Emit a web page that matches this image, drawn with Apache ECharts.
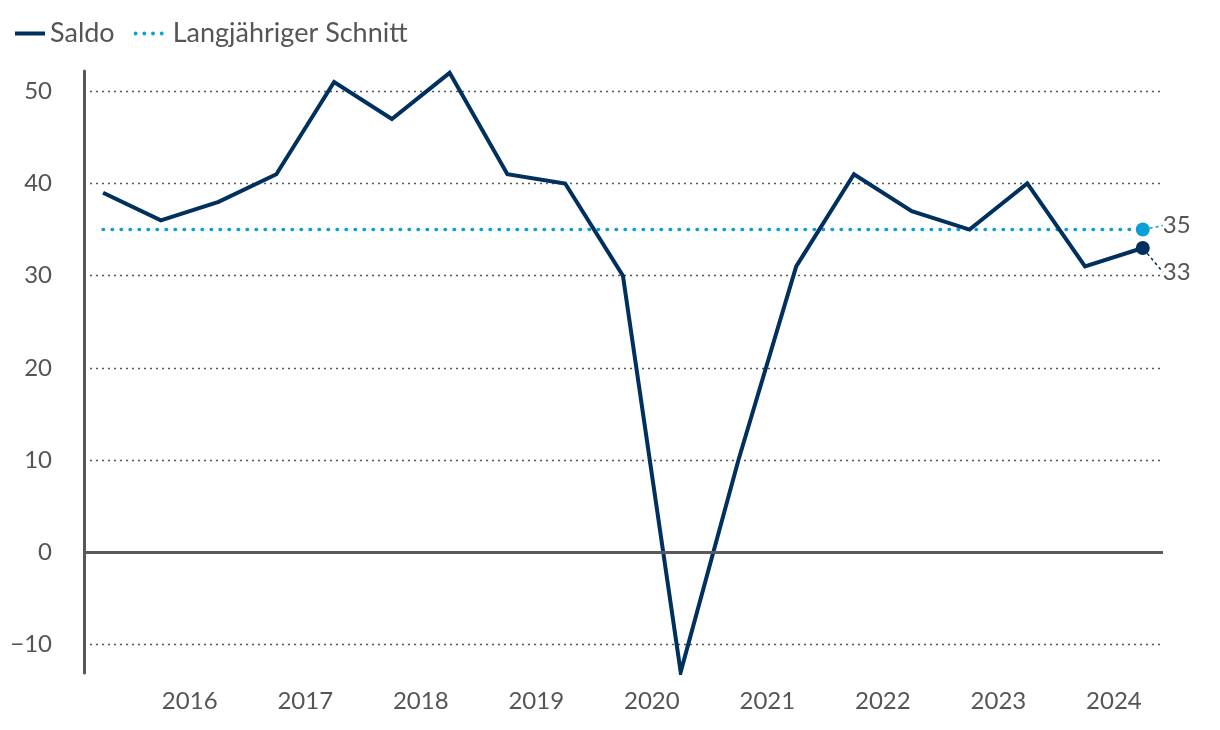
<!DOCTYPE html>
<html>
<head>
<meta charset="utf-8">
<script src="https://cdn.jsdelivr.net/npm/echarts@6/dist/echarts.min.js"></script>
<style>html,body{margin:0;padding:0;background:#fff}#c{width:1220px;height:730px}</style>
</head>
<body>
<div id="c"></div>
<script>
// Half-year periods
const periods = ['2015 H2','2016 H1','2016 H2','2017 H1','2017 H2','2018 H1','2018 H2','2019 H1','2019 H2','2020 H1','2020 H2','2021 H1','2021 H2','2022 H1','2022 H2','2023 H1','2023 H2','2024 H1','2024 H2'];
const saldo = [39, 36, 38, 41, 51, 47, 52, 41, 40, 30, -13, 10, 31, 41, 37, 35, 40, 31, 33];
const average = 35;
const yearLabels = [2016, 2017, 2018, 2019, 2020, 2021, 2022, 2023, 2024];
const yTicks = [-10, 0, 10, 20, 30, 40, 50];

const toX = p => { const [y, h] = p.split(' '); return +y + (h === 'H1' ? 0.25 : 0.75); };
const xs = periods.map(toX);
const saldoData = xs.map((x, i) => [x, saldo[i]]);
const avgData = xs.map(x => [x, average]);
const lastX = xs[xs.length - 1];
const lastSaldo = saldo[saldo.length - 1];

const NAVY = '#00305e', LIGHT = '#0a9fd8', GREY = '#555555';
const FONT = 'Lato';
const DOTS = 'path://M0,2a2,2 0 1,0 4,0a2,2 0 1,0 -4,0zM9,2a2,2 0 1,0 4,0a2,2 0 1,0 -4,0zM18,2a2,2 0 1,0 4,0a2,2 0 1,0 -4,0zM27,2a2,2 0 1,0 4,0a2,2 0 1,0 -4,0z';

const chart = echarts.init(document.getElementById('c'), null, {renderer: 'canvas'});
chart.setOption({
  animation: false,
  textStyle: {fontFamily: FONT},
  legend: {
    left: 10, top: 15, itemGap: 19,
    textStyle: {fontSize: 27, color: GREY, fontFamily: FONT},
    data: [
      {name: 'Saldo', icon: 'rect', itemStyle: {color: NAVY}},
      {name: 'Langjähriger Schnitt', icon: DOTS, itemStyle: {color: LIGHT},
       textStyle: {padding: [0, 0, 0, 4]}}
    ],
    itemWidth: 30, itemHeight: 4
  },
  grid: {left: 84, right: 57, top: 71, bottom: 57, containLabel: false},
  xAxis: {
    type: 'value', min: 2015.585, max: 2024.925,
    axisLine: {show: false},
    axisTick: {show: false},
    splitLine: {show: false},
    axisLabel: {
      customValues: yearLabels.map(y => y + 0.5),
      formatter: v => String(Math.floor(v)),
      color: GREY, fontSize: 24, margin: 16, fontFamily: FONT
    }
  },
  yAxis: {
    type: 'value', min: -13.1, max: 52.2,
    axisLine: {show: true, onZero: false, lineStyle: {color: '#575757', width: 3}},
    axisTick: {show: false, customValues: yTicks},
    axisLabel: {
      customValues: yTicks,
      formatter: v => v < 0 ? '\u2212' + Math.abs(v) : String(v),
      color: GREY, fontSize: 24, margin: 32, fontFamily: FONT
    },
    splitLine: {show: true, lineStyle: {color: '#555', width: 1.3, type: [2, 4]}}
  },
  series: [
    {
      name: 'Langjähriger Schnitt', type: 'line', data: avgData, symbol: 'none', z: 3,
      lineStyle: {color: LIGHT, width: 3.5, type: [0.5, 8.5], cap: 'round'},
      itemStyle: {color: LIGHT},
      markLine: {
        silent: true, symbol: 'none', label: {show: false},
        lineStyle: {color: '#5a5a5a', width: 3, type: 'solid'},
        data: [{yAxis: 0}]
      }
    },
    {
      name: 'Saldo', type: 'line', data: saldoData, symbol: 'none', z: 4,
      lineStyle: {color: NAVY, width: 4, join: 'miter'},
      itemStyle: {color: NAVY}
    },
    {
      type: 'scatter', z: 5, symbolSize: 14,
      data: [
        {value: [lastX, average], itemStyle: {color: LIGHT, opacity: 1},
         label: {formatter: String(average)}, labelLine: {lineStyle: {color: LIGHT}}},
        {value: [lastX, lastSaldo], itemStyle: {color: NAVY, opacity: 1},
         label: {formatter: String(lastSaldo)}, labelLine: {lineStyle: {color: NAVY}}}
      ],
      label: {show: true, position: 'right', distance: 4, fontSize: 24, color: GREY, fontFamily: FONT},
      labelLayout: p => p.dataIndex === 0 ? {dx: 9, dy: -4} : {dx: 9, dy: 24},
      labelLine: {show: true, lineStyle: {width: 1.5, type: [3, 3]}}
    }
  ]
});
</script>
</body>
</html>
